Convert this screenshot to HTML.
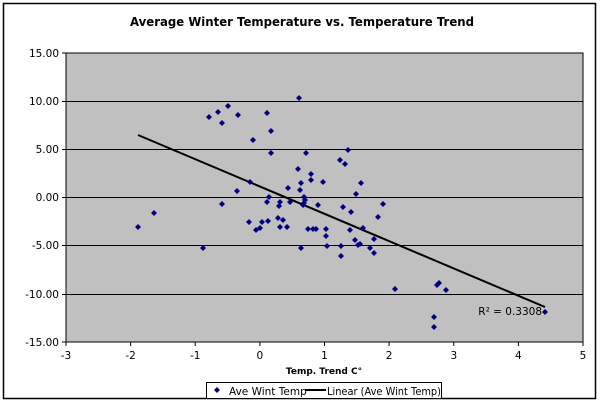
<!DOCTYPE html>
<html><head><style>body{margin:0;background:#fff}svg{display:block}</style></head><body>
<svg width="600" height="403" xmlns="http://www.w3.org/2000/svg" font-family="'DejaVu Sans', 'Liberation Sans', sans-serif">
<defs><path id="d" d="M0 -3 L3 0 L0 3 L-3 0Z" fill="#000080"/></defs>
<rect x="3.5" y="3.5" width="592" height="395" fill="#fff" stroke="#000" stroke-width="1.5"/>
<text x="302" y="26" text-anchor="middle" font-size="12" font-weight="bold" textLength="344" lengthAdjust="spacingAndGlyphs">Average Winter Temperature vs. Temperature Trend</text>
<rect x="66" y="53" width="517" height="289" fill="#c0c0c0" stroke="#000" stroke-width="1"/>
<g stroke="#000" stroke-width="1">
<line x1="66" y1="101.5" x2="583" y2="101.5"/><line x1="66" y1="149.5" x2="583" y2="149.5"/><line x1="66" y1="197.5" x2="583" y2="197.5"/><line x1="66" y1="245.5" x2="583" y2="245.5"/><line x1="66" y1="294.5" x2="583" y2="294.5"/>
<line x1="62" y1="53" x2="66" y2="53"/><line x1="62" y1="101.5" x2="66" y2="101.5"/><line x1="62" y1="149.5" x2="66" y2="149.5"/><line x1="62" y1="197.5" x2="66" y2="197.5"/><line x1="62" y1="245.5" x2="66" y2="245.5"/><line x1="62" y1="294.5" x2="66" y2="294.5"/><line x1="62" y1="342" x2="66" y2="342"/>
<line x1="66" y1="342" x2="66" y2="346"/><line x1="130.6" y1="342" x2="130.6" y2="346"/><line x1="195.2" y1="342" x2="195.2" y2="346"/><line x1="259.9" y1="342" x2="259.9" y2="346"/><line x1="324.5" y1="342" x2="324.5" y2="346"/><line x1="389.1" y1="342" x2="389.1" y2="346"/><line x1="453.8" y1="342" x2="453.8" y2="346"/><line x1="518.4" y1="342" x2="518.4" y2="346"/><line x1="583" y1="342" x2="583" y2="346"/>
</g>
<g font-size="10.5" text-anchor="end">
<text x="59" y="57">15.00</text><text x="59" y="105">10.00</text><text x="59" y="153">5.00</text><text x="59" y="201">0.00</text><text x="59" y="249">-5.00</text><text x="59" y="298">-10.00</text><text x="59" y="346">-15.00</text>
</g>
<g font-size="10.5" text-anchor="middle">
<text x="66" y="359">-3</text><text x="130.6" y="359">-2</text><text x="195.2" y="359">-1</text><text x="259.9" y="359">0</text><text x="324.5" y="359">1</text><text x="389.1" y="359">2</text><text x="453.8" y="359">3</text><text x="518.4" y="359">4</text><text x="583" y="359">5</text>
</g>
<text x="324" y="374" text-anchor="middle" font-size="9" font-weight="bold">Temp. Trend C°</text>
<line x1="138" y1="135" x2="545" y2="307" stroke="#000" stroke-width="2"/>
<g>
<use href="#d" x="138" y="227"/><use href="#d" x="154" y="213"/><use href="#d" x="203" y="248"/><use href="#d" x="209" y="117"/><use href="#d" x="218" y="112"/><use href="#d" x="228" y="106"/><use href="#d" x="222" y="123"/><use href="#d" x="238" y="115"/><use href="#d" x="222" y="204"/><use href="#d" x="237" y="191"/><use href="#d" x="250" y="182"/><use href="#d" x="253" y="140"/><use href="#d" x="267" y="113"/><use href="#d" x="271" y="131"/><use href="#d" x="271" y="153"/><use href="#d" x="299" y="98"/><use href="#d" x="306" y="153"/><use href="#d" x="348" y="150"/><use href="#d" x="340" y="160"/><use href="#d" x="345" y="164"/><use href="#d" x="298" y="169"/><use href="#d" x="311" y="174"/><use href="#d" x="311" y="180"/><use href="#d" x="323" y="182"/><use href="#d" x="301" y="183"/><use href="#d" x="288" y="188"/><use href="#d" x="361" y="183"/><use href="#d" x="300" y="190"/><use href="#d" x="356" y="194"/><use href="#d" x="269" y="197"/><use href="#d" x="267" y="202"/><use href="#d" x="280" y="202"/><use href="#d" x="279" y="206"/><use href="#d" x="290" y="202"/><use href="#d" x="304" y="197"/><use href="#d" x="305" y="200"/><use href="#d" x="304" y="203"/><use href="#d" x="303" y="205"/><use href="#d" x="318" y="205"/><use href="#d" x="343" y="207"/><use href="#d" x="351" y="212"/><use href="#d" x="378" y="217"/><use href="#d" x="278" y="218"/><use href="#d" x="283" y="220"/><use href="#d" x="262" y="222"/><use href="#d" x="249" y="222"/><use href="#d" x="256" y="230"/><use href="#d" x="260" y="228"/><use href="#d" x="280" y="227"/><use href="#d" x="287" y="227"/><use href="#d" x="313" y="229"/><use href="#d" x="316" y="229"/><use href="#d" x="326" y="229"/><use href="#d" x="326" y="236"/><use href="#d" x="327" y="246"/><use href="#d" x="341" y="246"/><use href="#d" x="363" y="228"/><use href="#d" x="370" y="248"/><use href="#d" x="374" y="253"/><use href="#d" x="358" y="245"/><use href="#d" x="355" y="240"/><use href="#d" x="341" y="256"/><use href="#d" x="301" y="248"/><use href="#d" x="268" y="221"/><use href="#d" x="350" y="230"/><use href="#d" x="374" y="239"/><use href="#d" x="383" y="204"/><use href="#d" x="395" y="289"/><use href="#d" x="437" y="285"/><use href="#d" x="439" y="283"/><use href="#d" x="446" y="290"/><use href="#d" x="434" y="317"/><use href="#d" x="434" y="327"/><use href="#d" x="545" y="312"/><use href="#d" x="360" y="244"/><use href="#d" x="308" y="229"/>
</g>
<text x="542" y="315" text-anchor="end" font-size="10.5">R² = 0.3308</text>
<rect x="206.5" y="382.5" width="235" height="16" fill="#fff" stroke="#000"/>
<use href="#d" x="217" y="390"/>
<text x="229" y="395" font-size="10.5">Ave Wint Temp</text>
<line x1="305" y1="390" x2="326" y2="390" stroke="#000" stroke-width="2"/>
<text x="327" y="395" font-size="10.5" textLength="114" lengthAdjust="spacingAndGlyphs">Linear (Ave Wint Temp)</text>
</svg>
</body></html>
